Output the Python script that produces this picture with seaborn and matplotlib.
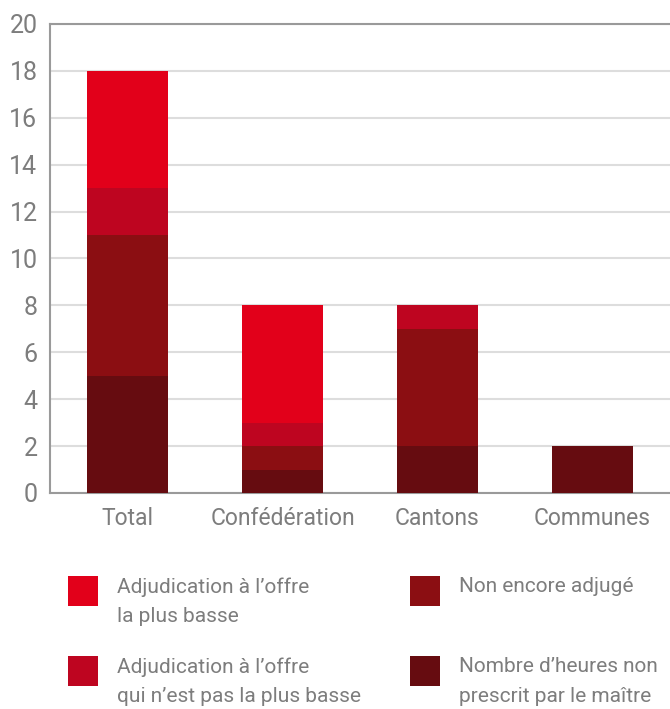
import numpy as np
import pandas as pd
import matplotlib
matplotlib.use("Agg")
import matplotlib.pyplot as plt
from matplotlib.patches import Rectangle
import seaborn as sns

# data (hours)
categories = ["Total", "Confédération", "Cantons", "Communes"]
non_prescrit = [5, 1, 2, 2]        # Nombre d'heures non prescrit par le maître
non_adjuge = [6, 1, 5, 0]          # Non encore adjugé
pas_plus_basse = [2, 1, 1, 0]      # Adjudication à l'offre qui n'est pas la plus basse
plus_basse = [5, 5, 0, 0]          # Adjudication à l'offre la plus basse

series = [
    ("Nombre d\u2019heures non\nprescrit par le maître", non_prescrit, "#660c10"),
    ("Non encore adjugé", non_adjuge, "#8b0e12"),
    ("Adjudication à l\u2019offre\nqui n\u2019est pas la plus basse", pas_plus_basse, "#be0520"),
    ("Adjudication à l\u2019offre\nla plus basse", plus_basse, "#e2001a"),
]

sns.set_theme(style="white")
plt.rcParams["font.family"] = ["Roboto", "DejaVu Sans"]
text_col = "#7d7d7d"
spine_col = "#9a9a9a"

fig = plt.figure(figsize=(6.7, 7.09), dpi=100)
ax = fig.add_axes([0.0746, 0.3047, 0.9254, 0.6615])

# stacked bars: draw cumulative totals from the top layer down
cum = np.cumsum([s[1] for s in series], axis=0)
for i in range(len(series) - 1, -1, -1):
    df = pd.DataFrame({"cat": categories, "val": cum[i]})
    sns.barplot(data=df, x="cat", y="val", order=categories, color=series[i][2],
                saturation=1, width=0.52, ax=ax, zorder=3, linewidth=0)

ax.set_ylim(0, 20)
ax.set_yticks(range(0, 21, 2))
ax.set_xlabel("")
ax.set_ylabel("")
ax.yaxis.grid(True, color="#dddddd", linewidth=1.5, zorder=0)
ax.set_axisbelow(True)
for side in ["left", "bottom", "top"]:
    ax.spines[side].set_color(spine_col)
    ax.spines[side].set_linewidth(1.5)
ax.spines["right"].set_visible(False)
ax.tick_params(axis="both", length=0, colors=text_col)
ax.tick_params(axis="y", pad=9, labelsize=18)
ax.tick_params(axis="x", pad=10, labelsize=16.5)

# legend, two columns below the chart (drawn by hand to match the layout)
H = 709.0
positions = [(68, 576), (68, 656), (410, 576), (410, 656)]  # square top-left, px
order = [3, 2, 1, 0]
for idx, (px, py) in zip(order, positions):
    label, _, color = series[idx]
    fig.add_artist(Rectangle((px / 670, (H - py - 30) / H), 30 / 670, 30 / H,
                             transform=fig.transFigure,
                             facecolor=color, edgecolor="none"))
    fig.text((px + 49) / 670, (H - py - 1) / H, label, ha="left", va="top",
             fontsize=15, color=text_col, linespacing=1.72)

fig.savefig("out.png", dpi=100)
